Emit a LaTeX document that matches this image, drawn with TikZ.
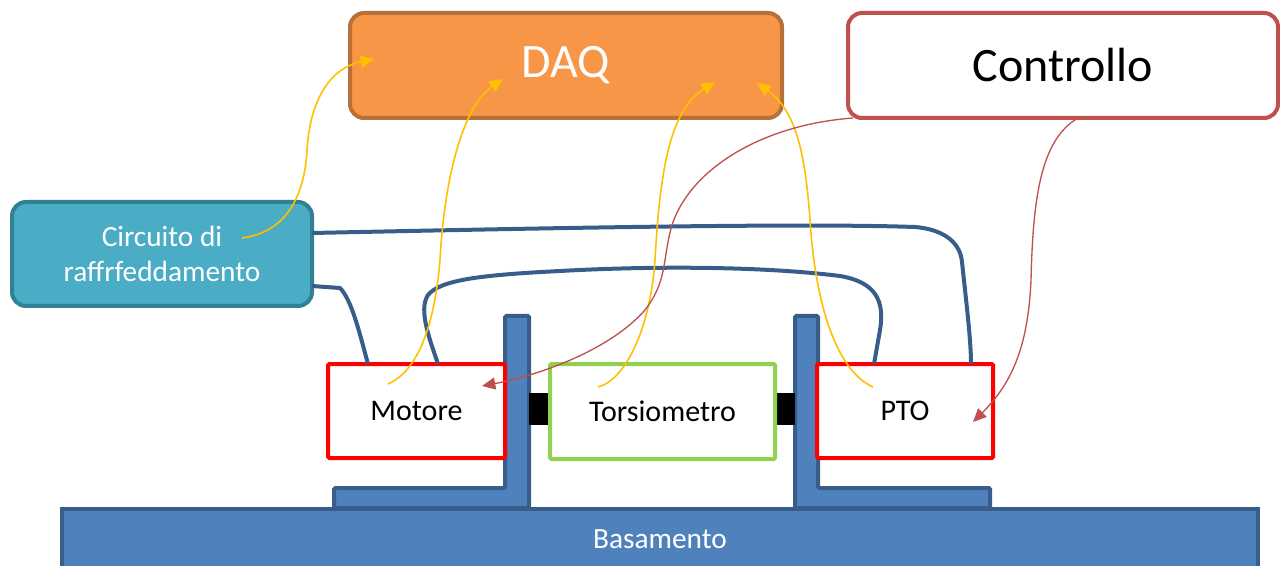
\documentclass[tikz,border=0pt]{standalone}
\usepackage{fontspec}
\setmainfont{Carlito}
\usetikzlibrary{arrows.meta}

\definecolor{daqfill}{RGB}{247,150,70}
\definecolor{daqline}{RGB}{183,112,58}
\definecolor{ctrlline}{RGB}{192,80,77}
\definecolor{circfill}{RGB}{75,172,198}
\definecolor{circline}{RGB}{49,128,148}
\definecolor{basefill}{RGB}{79,129,189}
\definecolor{baseline}{RGB}{56,93,138}
\definecolor{sigyellow}{RGB}{255,192,0}
\definecolor{unitred}{RGB}{255,0,0}
\definecolor{torsgreen}{RGB}{146,208,80}

\begin{document}
\begin{tikzpicture}[x=0.75pt,y=0.75pt,yscale=-1,
	unit/.style={draw=unitred, line width=3pt, fill=white, rounded corners=1pt, font=\fontsize{22.5}{27}\selectfont},
	panel/.style={line width=3pt, rounded corners=10.5pt, font=\fontsize{36}{42}\selectfont},
	cable/.style={draw=baseline, line width=3pt, line join=round},
	signal/.style={draw=sigyellow, line width=1.2pt, -{Triangle[length=10pt,width=9pt]}},
	command/.style={draw=ctrlline, line width=1pt, -{Triangle[length=10pt,width=9pt]}}]
	\useasboundingbox (0,0) rectangle (1280,566);
	
	%Shape: Rectangle [base]
	\node (base) [draw=baseline, fill=basefill, line width=3pt, minimum width=897pt, minimum height=45.75pt, text=white, font=\fontsize{22}{26}\selectfont] at (660,539.5) {Basamento};
	%Shape: Polygon [left support]
	\draw [draw=baseline, fill=basefill, line width=3pt, rounded corners=1pt] (505,316) -- (529,316) -- (529,508) -- (334,508) -- (334,488) -- (505,488) -- cycle ;
	%Shape: Polygon [right support]
	\draw [draw=baseline, fill=basefill, line width=3pt, rounded corners=1pt] (795,316) -- (818,316) -- (818,488) -- (990,488) -- (990,508) -- (795,508) -- cycle ;
	%Shape: Rectangle [couplings]
	\fill (529,393) rectangle (551,425) ;
	\fill (774,393) rectangle (795,425) ;
	
	% Text Node
	\node (daq) [panel, draw=daqline, fill=daqfill, text=white, minimum width=324pt, minimum height=78.75pt] at (566,65.5) {DAQ};
	% Text Node
	\node (ctrl) [panel, draw=ctrlline, fill=white, minimum width=322.5pt, minimum height=78.75pt] at (1063,65.5) {Controllo};
	% Text Node
	\node (circ) [panel, draw=circline, fill=circfill, text=white, align=center, minimum width=225pt, minimum height=78pt, font=\fontsize{22}{26.5}\selectfont] at (162,254) {Circuito di\\raffrfeddamento};
	% Text Node
	\node (mot) [unit, minimum width=132.75pt, minimum height=70.5pt] at (416.5,411) {Motore};
	% Text Node
	\node (tors) [unit, draw=torsgreen, minimum width=168.75pt, minimum height=71.25pt] at (662.5,411.5) {Torsiometro};
	% Text Node
	\node (pto) [unit, minimum width=132pt, minimum height=70.5pt] at (905,411) {PTO};
	
	% end points
	\coordinate (circA) at (312,233);
	\coordinate (circB) at (312,286);
	\coordinate (circS) at (242,238);
	\coordinate (motA) at (368,364);
	\coordinate (motB) at (438,364);
	\coordinate (motS) at (388,384);
	\coordinate (motC) at (482,386);
	\coordinate (torsS) at (598,387);
	\coordinate (ptoA) at (874,364);
	\coordinate (ptoB) at (971,364);
	\coordinate (ptoS) at (873,387);
	\coordinate (ptoC) at (973,422);
	\coordinate (daqA) at (374,59);
	\coordinate (daqB) at (503,79);
	\coordinate (daqC) at (715,82);
	\coordinate (daqD) at (757,83);
	\coordinate (ctrlA) at (853,118);
	\coordinate (ctrlB) at (1078,118);
	
	%Curve Lines [cooling pipes]
	\draw [cable] (circA) .. controls (550,228) and (800,223) .. (915,227) .. controls (940,229) and (960,240) .. (962,262) .. controls (966,300) and (971,340) .. (ptoB) ;
	\draw [cable] (circB) -- (340,288) .. controls (352,300) and (360,335) .. (motA) ;
	\draw [cable] (motB) .. controls (430,340) and (418,310) .. (428,295) .. controls (440,280) and (480,275) .. (560,271) .. controls (650,266) and (760,266) .. (840,276) .. controls (875,282) and (885,300) .. (880,330) -- (ptoA) ;
	
	%Curve Lines [signals]
	\draw [signal] (circS) .. controls (290,232) and (305,190) .. (307,150) .. controls (310,100) and (330,68) .. (daqA) ;
	\draw [signal] (motS) .. controls (420,370) and (435,320) .. (440,260) .. controls (445,170) and (465,105) .. (daqB) ;
	\draw [signal] (torsS) .. controls (625,380) and (650,330) .. (655,260) .. controls (660,170) and (670,110) .. (daqC) ;
	\draw [signal] (ptoS) .. controls (835,370) and (815,300) .. (810,220) .. controls (805,150) and (795,110) .. (daqD) ;
	
	%Curve Lines [commands]
	\draw [command] (ctrlA) .. controls (760,125) and (690,170) .. (672,225) .. controls (662,260) and (668,280) .. (645,310) .. controls (610,350) and (540,375) .. (motC) ;
	\draw [command] (ctrlB) .. controls (1040,140) and (1033,200) .. (1031,280) .. controls (1028,350) and (1010,385) .. (ptoC) ;
	
\end{tikzpicture}
\end{document}
